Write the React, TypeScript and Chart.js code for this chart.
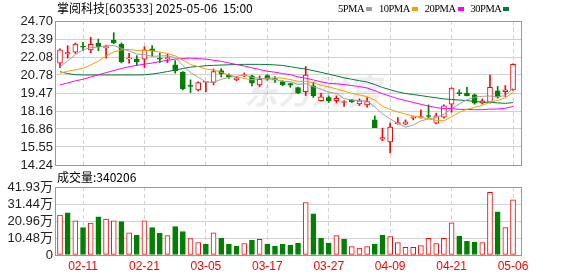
import React, { useEffect, useRef } from 'react';
import { Chart, registerables } from 'chart.js';

Chart.register(...registerables);

// ---------- data ----------
const stockTitle = '掌阅科技[603533]';
const stamp = '2025-05-06  15:00';
const volumeLabel = '成交量';
const latestVolume = 340206;
const maNames = ['5PMA', '10PMA', '20PMA', '30PMA'];

const dates = [
  '02-06', '02-07', '02-10', '02-11', '02-12', '02-13', '02-14', '02-17', '02-18', '02-19',
  '02-20', '02-21', '02-24', '02-25', '02-26', '02-27', '02-28', '03-03', '03-04', '03-05',
  '03-06', '03-07', '03-10', '03-11', '03-12', '03-13', '03-14', '03-17', '03-18', '03-19',
  '03-20', '03-21', '03-24', '03-25', '03-26', '03-27', '03-28', '03-31', '04-01', '04-02',
  '04-03', '04-07', '04-08', '04-09', '04-10', '04-11', '04-14', '04-15', '04-16', '04-17',
  '04-18', '04-21', '04-22', '04-23', '04-24', '04-25', '04-28', '04-29', '04-30', '05-06',
];
const dateTickIdx = [3, 11, 19, 27, 35, 43, 51, 59];

const opens = [
  21.63, 22.31, 22.43, 22.88, 22.60, 23.08, 22.75, 23.32, 23.03, 21.94,
  21.94, 21.92, 22.67, 21.99, 21.96, 21.51, 20.98, 20.04, 19.70, 20.25,
  20.23, 21.10, 20.78, 20.42, 20.71, 20.71, 20.06, 20.73, 20.52, 20.30,
  20.16, 19.86, 19.57, 19.99, 18.92, 19.14, 18.92, 18.78, 18.95, 18.68,
  18.61, 17.52, 16.12, 15.91, 17.23, 17.21, 17.64, 17.69, 17.81, 17.28,
  17.72, 18.66, 19.50, 19.46, 19.33, 18.73, 18.80, 19.62, 19.57, 19.70,
];
const highs = [
  22.67, 22.91, 23.10, 23.15, 23.52, 23.39, 22.95, 23.85, 23.10, 22.36,
  22.18, 22.84, 22.91, 22.36, 22.28, 21.82, 21.02, 20.42, 20.28, 20.29,
  21.22, 21.24, 20.86, 20.66, 20.93, 20.78, 20.71, 20.80, 20.66, 20.37,
  20.18, 19.90, 21.39, 20.25, 19.46, 19.26, 19.26, 18.92, 19.00, 19.05,
  19.14, 17.81, 16.92, 17.28, 17.69, 17.52, 17.76, 18.25, 18.61, 18.01,
  18.61, 19.85, 19.70, 19.89, 19.40, 19.04, 20.78, 19.94, 20.01, 21.58,
];
const lows = [
  21.31, 22.00, 22.35, 22.54, 22.40, 22.54, 22.00, 23.05, 21.65, 21.63,
  21.46, 21.31, 22.16, 21.68, 21.68, 20.91, 19.70, 19.50, 19.62, 19.57,
  20.06, 20.64, 20.52, 20.35, 20.66, 19.99, 19.94, 20.40, 20.23, 19.99,
  19.88, 19.42, 19.28, 19.14, 18.90, 18.78, 18.75, 18.49, 18.78, 18.56,
  18.44, 16.96, 16.00, 15.11, 17.20, 17.18, 17.52, 17.64, 17.64, 17.23,
  17.64, 18.08, 19.28, 19.26, 18.66, 18.66, 18.73, 19.09, 19.21, 19.66,
];
const closes = [
  22.60, 22.40, 23.03, 22.79, 23.01, 22.84, 22.85, 23.12, 21.75, 22.02,
  21.75, 22.60, 22.52, 21.92, 22.04, 21.10, 19.77, 19.94, 20.23, 20.27,
  21.02, 20.86, 20.66, 20.57, 20.78, 20.18, 20.47, 20.47, 20.42, 20.08,
  20.03, 19.46, 20.78, 19.28, 19.19, 18.92, 19.09, 18.81, 18.82, 18.90,
  18.85, 16.96, 16.24, 16.99, 17.33, 17.38, 17.74, 17.76, 17.76, 17.81,
  18.54, 19.82, 19.43, 19.28, 18.73, 18.90, 19.89, 19.16, 19.70, 21.56,
];

const ma5 = [
  21.39, 21.80, 22.25, 22.60, 22.77, 22.81, 22.90, 22.92, 22.71, 22.52,
  22.30, 22.25, 22.13, 22.16, 22.17, 22.04, 21.47, 20.95, 20.62, 20.26,
  20.25, 20.46, 20.61, 20.68, 20.78, 20.61, 20.53, 20.49, 20.46, 20.32,
  20.29, 20.09, 20.15, 19.93, 19.75, 19.53, 19.45, 19.06, 18.97, 18.91,
  18.89, 18.47, 17.95, 17.59, 17.27, 16.98, 17.14, 17.44, 17.59, 17.69,
  17.92, 18.34, 18.67, 18.98, 19.16, 19.23, 19.25, 19.19, 19.28, 19.84,
];
const ma10 = [
  20.91, 21.05, 21.15, 21.27, 21.50, 21.78, 22.15, 22.45, 22.60, 22.64,
  22.56, 22.58, 22.53, 22.44, 22.34, 22.17, 21.86, 21.54, 21.39, 21.21,
  21.14, 20.97, 20.78, 20.65, 20.52, 20.43, 20.50, 20.55, 20.57, 20.55,
  20.45, 20.31, 20.32, 20.20, 20.04, 19.91, 19.77, 19.61, 19.45, 19.33,
  19.21, 18.96, 18.51, 18.28, 18.09, 17.94, 17.80, 17.70, 17.59, 17.48,
  17.45, 17.74, 18.06, 18.29, 18.43, 18.58, 18.79, 18.93, 19.13, 19.50,
];
const ma20 = [
  20.06, 20.20, 20.35, 20.47, 20.63, 20.80, 20.95, 21.10, 21.25, 21.38,
  21.48, 21.56, 21.65, 21.75, 21.85, 21.93, 21.98, 22.00, 21.97, 21.93,
  21.85, 21.77, 21.65, 21.54, 21.43, 21.30, 21.18, 21.05, 20.98, 20.88,
  20.80, 20.64, 20.55, 20.42, 20.28, 20.17, 20.14, 20.08, 20.01, 19.94,
  19.83, 19.64, 19.42, 19.24, 19.06, 18.92, 18.79, 18.65, 18.52, 18.41,
  18.33, 18.35, 18.28, 18.28, 18.26, 18.26, 18.30, 18.31, 18.36, 18.49,
];
const ma30 = [
  21.02, 20.88, 20.80, 20.78, 20.78, 20.78, 20.78, 20.78, 20.78, 20.78,
  20.78, 20.79, 20.85, 20.93, 21.03, 21.13, 21.25, 21.35, 21.40, 21.45,
  21.48, 21.50, 21.52, 21.54, 21.55, 21.55, 21.55, 21.54, 21.51, 21.47,
  21.38, 21.29, 21.21, 21.09, 20.97, 20.84, 20.71, 20.57, 20.47, 20.36,
  20.27, 20.08, 19.87, 19.71, 19.55, 19.43, 19.36, 19.28, 19.20, 19.12,
  19.04, 19.00, 18.96, 18.92, 18.85, 18.81, 18.79, 18.75, 18.72, 18.77,
];

// volume in 万 (10,000 shares)
const volumes = [
  24.6, 26.0, 21.0, 16.9, 19.7, 23.6, 22.2, 21.0, 20.6, 13.7,
  12.1, 21.0, 16.9, 13.3, 11.9, 17.5, 14.5, 10.1, 7.7, 6.6,
  13.7, 10.3, 6.6, 5.4, 7.1, 9.1, 9.7, 6.6, 5.4, 6.6,
  6.1, 7.3, 32.4, 25.4, 10.3, 7.3, 11.9, 9.7, 5.2, 4.2,
  5.2, 6.6, 12.1, 11.3, 7.7, 4.8, 4.8, 5.8, 10.3, 7.1,
  10.3, 19.9, 11.5, 8.5, 7.9, 7.7, 38.7, 26.6, 16.9, latestVolume / 10000,
];
// 1 = red (up) volume bar, 0 = green
const volumeUp = [
  1, 0, 1, 0, 1, 0, 1, 1, 0, 1,
  0, 1, 0, 0, 1, 0, 0, 1, 1, 0,
  1, 0, 0, 0, 1, 0, 1, 0, 0, 0,
  0, 0, 1, 0, 0, 0, 1, 0, 1, 1,
  1, 0, 0, 1, 1, 1, 1, 1, 1, 1,
  1, 1, 0, 0, 0, 1, 1, 0, 1, 1,
];

const priceTicks = [14.24, 15.55, 16.86, 18.16, 19.47, 20.78, 22.08, 23.39, 24.70];
const volumeTicks = [0, 10.48, 20.96, 31.44, 41.93];

// ---------- styles ----------
const RED = '#ff0000';
const GREEN = '#008000';
const GRID = '#d2d2d2';
const FRAME = '#999999';
const MA_COLORS = ['#a0a0a0', '#f2a100', '#ff00ff', '#007a3a'];
const AXIS_FONT = "'Liberation Sans', 'Noto Sans CJK SC', sans-serif";
const CJK_FONT = "'Noto Sans CJK SC', 'Liberation Sans', sans-serif";

const frame = {
  id: 'frame',
  afterDraw(chart: any) {
    const { ctx, chartArea: a } = chart;
    ctx.save();
    ctx.strokeStyle = FRAME;
    ctx.lineWidth = 1;
    ctx.strokeRect(Math.round(a.left) - 0.5, Math.round(a.top) + 0.5, Math.round(a.right - a.left), Math.round(a.bottom - a.top));
    ctx.restore();
  },
};

const watermark = {
  id: 'watermark',
  beforeDatasetsDraw(chart: any) {
    const { ctx, chartArea: a } = chart;
    ctx.save();
    ctx.fillStyle = 'rgba(0,0,0,0.07)';
    ctx.font = `italic bold 34px ${CJK_FONT}`;
    ctx.textAlign = 'center';
    ctx.textBaseline = 'middle';
    ctx.fillText('东方财富', a.left + (a.right - a.left) * 0.55, a.top + (a.bottom - a.top) * 0.49);
    ctx.restore();
  },
};

const xScale = (showLabels: boolean) => ({
  type: 'linear',
  offset: false,
  min: -0.52,
  max: 60.17,
  afterBuildTicks: (s: any) => {
    s.ticks = dateTickIdx.map((v) => ({ value: v }));
  },
  afterFit: (s: any) => {
    s.height = showLabels ? 21 : 0;
  },
  ticks: {
    display: showLabels,
    autoSkip: false,
    maxRotation: 0,
    minRotation: 0,
    padding: 4,
    color: RED,
    font: { family: AXIS_FONT, size: 12 },
    callback: (v: any) => dates[v] ?? '',
  },
  grid: { offset: false, color: GRID, drawTicks: false, lineWidth: 1 },
  border: { display: false, dash: [4, 3] },
});

const yScale = (min: number, max: number, ticks: number[], fmt: (v: number) => string) => ({
  min,
  max,
  afterBuildTicks: (s: any) => {
    s.ticks = ticks.map((v) => ({ value: v }));
  },
  afterFit: (s: any) => {
    s.width = 56;
  },
  ticks: {
    autoSkip: false,
    padding: 3,
    color: '#222',
    font: { family: AXIS_FONT, size: 13 },
    callback: (v: any) => fmt(Number(v)),
  },
  grid: { color: GRID, drawTicks: false, lineWidth: 1 },
  border: { display: false },
});

export default function App() {
  const priceRef = useRef<HTMLCanvasElement>(null);
  const volRef = useRef<HTMLCanvasElement>(null);

  useEffect(() => {
    const idx = dates.map((_, i) => i);
    const up = (i: number) => closes[i] >= opens[i];
    const maSeries = [ma5, ma10, ma20, ma30];

    const priceChart = new Chart(priceRef.current as HTMLCanvasElement, {
      type: 'bar',
      data: {
        datasets: [
          ...maSeries.map((s, k) => ({
            type: 'line' as const,
            label: maNames[k],
            data: idx.map((i) => ({ x: i, y: s[i] })),
            borderColor: MA_COLORS[k],
            borderWidth: 1,
            pointRadius: 0,
            tension: 0,
            fill: false,
            order: 0,
          })),
          {
            type: 'bar' as const,
            label: 'body',
            data: idx.map((i) => ({ x: i, y: [opens[i], closes[i]] })),
            backgroundColor: idx.map((i) => (up(i) ? '#ffffff' : GREEN)),
            borderColor: idx.map((i) => (up(i) ? RED : GREEN)),
            borderWidth: 1,
            borderSkipped: false,
            barThickness: 5,
            minBarLength: 1,
            grouped: false,
            order: 1,
          },
          {
            type: 'bar' as const,
            label: 'wick',
            data: idx.map((i) => ({ x: i, y: [lows[i], highs[i]] })),
            backgroundColor: idx.map((i) => (up(i) ? RED : GREEN)),
            borderWidth: 0,
            barThickness: 1,
            grouped: false,
            order: 2,
          },
        ] as any,
      },
      options: {
        responsive: false,
        animation: false,
        devicePixelRatio: 1,
        layout: { padding: { left: 0, right: 56, top: 21, bottom: 11 } },
        plugins: { legend: { display: false }, tooltip: { enabled: false } },
        scales: {
          x: xScale(false) as any,
          y: yScale(14.24, 24.7, priceTicks, (v) => v.toFixed(2)) as any,
        },
      },
      plugins: [watermark, frame],
    });

    const volChart = new Chart(volRef.current as HTMLCanvasElement, {
      type: 'bar',
      data: {
        datasets: [
          {
            label: volumeLabel,
            data: idx.map((i) => ({ x: i, y: volumes[i] })),
            backgroundColor: idx.map((i) => (volumeUp[i] ? '#ffffff' : GREEN)),
            borderColor: idx.map((i) => (volumeUp[i] ? RED : GREEN)),
            borderWidth: 1,
            borderSkipped: false,
            barThickness: 5,
            grouped: false,
          },
        ] as any,
      },
      options: {
        responsive: false,
        animation: false,
        devicePixelRatio: 1,
        layout: { padding: { left: 0, right: 56, top: 17, bottom: 0 } },
        plugins: { legend: { display: false }, tooltip: { enabled: false } },
        scales: {
          x: xScale(true) as any,
          y: yScale(0, 41.93, volumeTicks, (v) => (v === 0 ? '0' : v.toFixed(2) + '万')) as any,
        },
      },
      plugins: [frame],
    });

    return () => {
      priceChart.destroy();
      volChart.destroy();
    };
  }, []);

  return (
    <div
      style={{
        position: 'fixed',
        left: 0,
        top: 0,
        width: 578,
        height: 276,
        background: '#ffffff',
        overflow: 'hidden',
      }}
    >
      <canvas
        ref={priceRef}
        width={578}
        height={176}
        style={{ position: 'absolute', left: 0, top: 0, width: 578, height: 176 }}
      />
      <canvas
        ref={volRef}
        width={578}
        height={106}
        style={{ position: 'absolute', left: 0, top: 170, width: 578, height: 106 }}
      />
      <div
        style={{
          position: 'absolute',
          left: 57,
          top: 1,
          fontFamily: CJK_FONT,
          fontSize: 12,
          lineHeight: '14px',
          color: '#000',
          whiteSpace: 'pre',
        }}
      >
        {stockTitle + ' ' + stamp}
      </div>
      <div
        style={{
          position: 'absolute',
          left: 338,
          top: 2,
          display: 'flex',
          alignItems: 'center',
          fontFamily: "'Liberation Serif', serif",
          fontSize: 10.5,
          letterSpacing: -0.5,
          lineHeight: '14px',
          color: '#000',
          whiteSpace: 'pre',
        }}
      >
        {maNames.map((name, k) => (
          <span key={name} style={{ display: 'flex', alignItems: 'center', marginRight: 7 }}>
            <span>{name}</span>
            <span
              style={{
                display: 'inline-block',
                width: 6,
                height: 4,
                marginLeft: 2,
                background: MA_COLORS[k],
              }}
            />
          </span>
        ))}
      </div>
      <div
        style={{
          position: 'absolute',
          left: 57,
          top: 170,
          fontFamily: CJK_FONT,
          fontSize: 12,
          lineHeight: '14px',
          color: '#000',
          whiteSpace: 'pre',
        }}
      >
        {volumeLabel + ':' + latestVolume}
      </div>
    </div>
  );
}
